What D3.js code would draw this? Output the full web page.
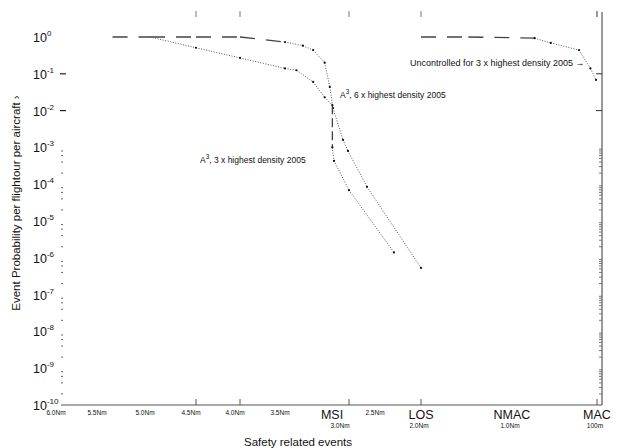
<!DOCTYPE html>
<html lang="en">
<head>
<meta charset="UTF-8" />
<title>Event probability per flighthour</title>
<style>
  body { margin: 0; background: #fff; }
  text { font-family: "Liberation Sans", Arial, sans-serif; fill: #111; }
</style>
</head>
<body>
<svg id="chart" width="618" height="448"></svg>
<script src="https://cdn.jsdelivr.net/npm/d3@7"></script>
<script>
// separation (Nm) and event probability
let a3x6Sep  = [5.39, 5.0, 4.5, 4.0, 3.5, 3.36, 3.28, 3.19, 3.15, 3.125, 3.047, 3.008, 2.71, 2.0];
let a3x6Prob = [1, 1, 1, 1, 0.73, 0.58, 0.44, 0.2, 0.044, 0.0117, 1.6e-3, 8e-4, 8.5e-5, 5.3e-7];

let a3x3Sep  = [5.0, 4.5, 4.0, 3.5, 3.41, 3.28, 3.19, 3.13, 3.13, 3.117, 3.0, 2.33];
let a3x3Prob = [1, 0.51, 0.27, 0.14, 0.125, 0.06, 0.023, 0.014, 1.0e-3, 4.3e-4, 6.9e-5, 1.4e-6];

let uncSep  = [2.0, 1.48, 0.76, 0.59, 0.29, 0.17, 0.11];
let uncProb = [1, 1, 0.93, 0.69, 0.44, 0.14, 0.068];

// x axis
let sepTicks = [6.0, 5.5, 5.0, 4.5, 4.0, 3.5, 2.5];
let sepTickLabels = ["6.0Nm", "5.5Nm", "5.0Nm", "4.5Nm", "4.0Nm", "3.5Nm", "2.5Nm"];
let eventSep = [3.0, 2.0, 1.0, 0.1];
let eventNames = ["MSI", "LOS", "NMAC", "MAC"];
let eventSubLabels = ["3.0Nm", "2.0Nm", "1.0Nm", "100m"];
let markSep = [4.5, 4.0, 3.0, 2.0, 0.1];

// y axis
let decades = d3.range(0, -11, -1);

let svg = d3.select("#chart");

// the separation axis is not linear, so the scale is piecewise
let x = d3.scaleLinear()
  .domain([6, 5.5, 5, 4.5, 4, 3.5, 3, 2.5, 2, 1, 0.1])
  .range([61, 102, 150, 196, 240, 285, 349, 380, 421, 512, 597]);
let y = d3.scaleLog().domain([1e-10, 1]).range([405, 37]);

let axisColor = "#555";

// bottom axis line and right axis line
svg.append("line").attr("x1", x(6)).attr("x2", 602).attr("y1", y(1e-10)).attr("y2", y(1e-10))
  .attr("stroke", axisColor).attr("stroke-width", 1.2);
svg.append("line").attr("x1", 602).attr("x2", 602).attr("y1", 12).attr("y2", y(1e-10))
  .attr("stroke", axisColor).attr("stroke-width", 1.2);

// ticks top and bottom
markSep.forEach(s => {
  svg.append("line").attr("x1", x(s)).attr("x2", x(s)).attr("y1", y(1e-10) - 6).attr("y2", y(1e-10))
    .attr("stroke", axisColor);
  svg.append("line").attr("x1", x(s)).attr("x2", x(s)).attr("y1", 11).attr("y2", 17)
    .attr("stroke", "#777");
});

// small separation labels
svg.selectAll(".septick").data(sepTicks).enter().append("text")
  .attr("x", d => x(d) - 5).attr("y", 415)
  .attr("text-anchor", "middle").attr("font-size", 6.5)
  .text((d, i) => sepTickLabels[i]);

// event names with their separation below
let nudge = { MSI: -17, LOS: 0, NMAC: 0, MAC: 0 };
eventSep.forEach((s, i) => {
  svg.append("text").attr("x", x(s) + nudge[eventNames[i]]).attr("y", 419)
    .attr("text-anchor", "middle").attr("font-size", 12.5).text(eventNames[i]);
  svg.append("text").attr("x", x(s) + (i == 0 ? -9 : -2)).attr("y", 428)
    .attr("text-anchor", "middle").attr("font-size", 6.5).text(eventSubLabels[i]);
});

svg.append("text").attr("x", 298).attr("y", 446).attr("text-anchor", "middle")
  .attr("font-size", 11.5).text("Safety related events");

// y tick labels 10^n
let yl = svg.selectAll(".ylab").data(decades).enter().append("text")
  .attr("x", 33).attr("y", d => y(Math.pow(10, d)) + 5)
  .attr("font-size", 12.5);
yl.append("tspan").text("10");
yl.append("tspan").attr("dy", -6).attr("font-size", 8).text(d => d);

svg.append("text")
  .attr("transform", "translate(20,203) rotate(-90)")
  .attr("text-anchor", "middle").attr("font-size", 11.5)
  .text("Event Probability per flightour per aircraft  \u203A");

// left ticks
[1e-1, 1e-2].forEach(v => {
  svg.append("line").attr("x1", 60).attr("x2", 66).attr("y1", y(v)).attr("y2", y(v))
    .attr("stroke", "#222").attr("stroke-width", 1.2);
});
// minor ticks, left and right
d3.range(-10, -3).forEach(e => {
  [2, 4, 6, 8].forEach(m => {
    let v = m * Math.pow(10, e);
    svg.append("line").attr("x1", 61).attr("x2", 63).attr("y1", y(v)).attr("y2", y(v))
      .attr("stroke", "#666");
  });
  d3.range(2, 10).forEach(m => {
    let v = m * Math.pow(10, e);
    svg.append("line").attr("x1", 599).attr("x2", 602).attr("y1", y(v)).attr("y2", y(v))
      .attr("stroke", "#777");
  });
});
[1e-1, 1e-2].forEach(v => {
  svg.append("line").attr("x1", 596).attr("x2", 602).attr("y1", y(v)).attr("y2", y(v))
    .attr("stroke", "#333");
});
// top right tick
svg.append("line").attr("x1", 597).attr("x2", 597).attr("y1", 11).attr("y2", 17).attr("stroke", "#777");

// series
function drawSeries(sep, prob) {
  let pts = sep.map((s, i) => [x(s), y(prob[i])]);
  for (let i = 0; i < pts.length - 1; i++) {
    let flat = Math.min(prob[i], prob[i + 1]) >= 0.7;
    let vertical = sep[i] == sep[i + 1];
    svg.append("line")
      .attr("x1", pts[i][0]).attr("y1", pts[i][1])
      .attr("x2", pts[i + 1][0]).attr("y2", pts[i + 1][1])
      .attr("stroke", flat || vertical ? "#444" : "#555")
      .attr("stroke-width", flat || vertical ? 1.3 : 1)
      .attr("stroke-dasharray", flat ? "15,11" : vertical ? "9,4" : "1,1.6");
  }
  svg.selectAll(null).data(pts.filter((p, i) => prob[i] < 0.999 && i > 0)).enter()
    .append("circle").attr("cx", d => d[0]).attr("cy", d => d[1]).attr("r", 1.1).attr("fill", "#111");
}
drawSeries(a3x6Sep, a3x6Prob);
drawSeries(a3x3Sep, a3x3Prob);
drawSeries(uncSep, uncProb);

// annotations
function note(tx, ty, size, parts) {
  let t = svg.append("text").attr("x", tx).attr("y", ty).attr("font-size", size);
  parts.forEach(p => {
    let s = t.append("tspan").text(p.text);
    if (p.dy) s.attr("dy", p.dy);
    if (p.sup) s.attr("font-size", size * 0.75);
  });
}
note(340, 98, 8.5, [{ text: "A" }, { text: "3", dy: -4, sup: true }, { text: ", 6 x highest density 2005", dy: 4 }]);
note(200, 163, 8.5, [{ text: "A" }, { text: "3", dy: -4, sup: true }, { text: ", 3 x highest density 2005", dy: 4 }]);
note(410, 66, 9, [{ text: "Uncontrolled for 3 x highest density 2005 \u2192" }]);
</script>
</body>
</html>
